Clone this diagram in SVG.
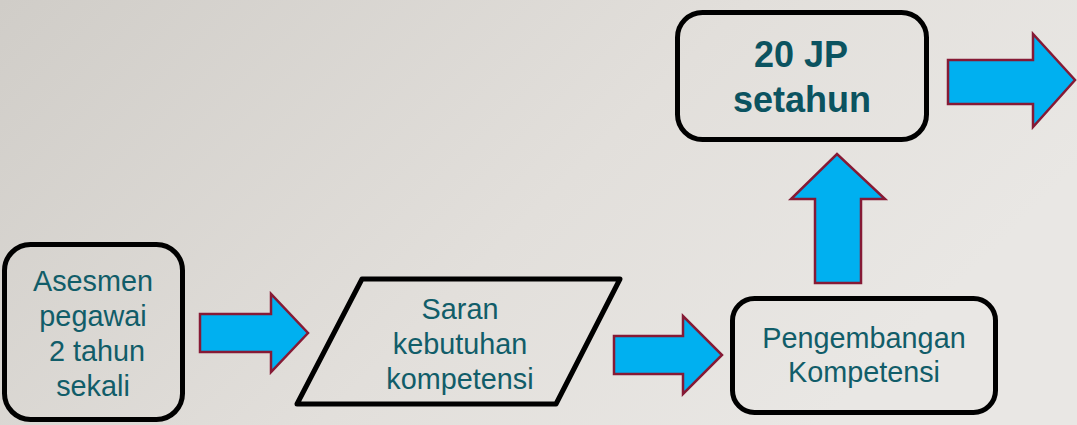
<svg xmlns="http://www.w3.org/2000/svg" width="1077" height="425" viewBox="0 0 1077 425">
<defs>
<linearGradient id="bg" x1="0" y1="0" x2="1" y2="0.4">
<stop offset="0" stop-color="#d0cdc8"/>
<stop offset="0.6" stop-color="#e2dfdb"/>
<stop offset="1" stop-color="#e9e7e4"/>
</linearGradient>
<style>
.box{fill:none;stroke:#000;stroke-width:5;stroke-linejoin:round}
.t{font-family:"Liberation Sans",Arial,sans-serif;font-size:28.8px;fill:#115d69;text-anchor:middle}
.tb{font-family:"Liberation Sans",Arial,sans-serif;font-size:36px;font-weight:bold;fill:#0b5360;text-anchor:middle}
.arr{fill:#00b0f0;stroke:#861a35;stroke-width:2.5;stroke-linejoin:miter}
</style>
</defs>
<rect width="1077" height="425" fill="url(#bg)"/>
<g id="connectors">
<polygon class="arr" points="200,314 271,314 271,294 308,333 271,372 271,352 200,352"/>
<polygon class="arr" points="614,336 683,336 683,316 722,355 683,394 683,374 614,374"/>
<polygon class="arr" points="815,283 815,199 791,199 837,154 885,199 861,199 861,283"/>
<polygon class="arr" points="948,60 1033,60 1033,34 1075,80 1033,127 1033,104 948,104"/>
</g>
<g id="node-asesmen">
<rect class="box" x="4.5" y="244.5" width="178" height="175" rx="26"/>
<text class="t" x="93" y="291">Asesmen</text>
<text class="t" x="93" y="326">pegawai</text>
<text class="t" x="97" y="361">2 tahun</text>
<text class="t" x="93" y="396">sekali</text>
</g>
<g id="node-saran">
<polygon class="box" points="362,279 620,279 556,404 297,404"/>
<text class="t" x="460" y="319">Saran</text>
<text class="t" x="460" y="354">kebutuhan</text>
<text class="t" x="460" y="389">kompetensi</text>
</g>
<g id="node-pengembangan">
<rect class="box" x="732.5" y="298.5" width="263" height="114" rx="22"/>
<text class="t" x="864" y="348">Pengembangan</text>
<text class="t" x="864" y="382">Kompetensi</text>
</g>
<g id="node-20jp">
<rect class="box" x="677.5" y="12.5" width="249" height="127" rx="25"/>
<text class="tb" x="801" y="67">20 JP</text>
<text class="tb" x="802" y="112">setahun</text>
</g>
</svg>
